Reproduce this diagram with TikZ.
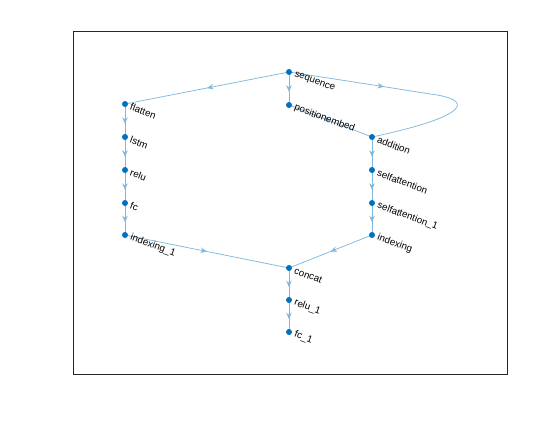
\documentclass[tikz,border=0pt]{standalone}
\usepackage{fontspec}
\setmainfont{Liberation Sans}
\usetikzlibrary{arrows.meta,decorations.markings,backgrounds}
\definecolor{edgec}{RGB}{128,184,222}
\definecolor{nodec}{RGB}{0,114,189}
\tikzset{
  x=1bp,y=-1bp,
  gnode/.style={circle,fill=nodec,inner sep=0pt,minimum size=6bp},
  glabel/.style={anchor=west,rotate=-20,inner sep=0pt,font=\fontsize{9.8}{11}\selectfont},
  gedge/.style={draw=edgec,line width=0.75bp,postaction={decorate},
    decoration={markings,mark=at position #1 with {\arrow[edgec]{Stealth[length=6.5bp,width=5.5bp]}}}},
  gedge/.default=0.6
}
\begin{document}
\begin{tikzpicture}
\useasboundingbox (0,0) rectangle (560,420);
\draw[line width=0.5bp,black!85] (72.8,31.5) rectangle (506.8,373.8);
\node[gnode] (seq) at (289,72) {};
\node[gnode] (pos) at (289,105) {};
\node[gnode] (fla) at (125,104) {};
\node[gnode] (lst) at (125,137) {};
\node[gnode] (rel) at (125,170) {};
\node[gnode] (fc) at (125,203) {};
\node[gnode] (ix1) at (125,235) {};
\node[gnode] (add) at (372,137) {};
\node[gnode] (sa) at (372,170) {};
\node[gnode] (sa1) at (372,203) {};
\node[gnode] (ix) at (372,235) {};
\node[gnode] (cat) at (289,268) {};
\node[gnode] (re1) at (289,300) {};
\node[gnode] (fc1) at (289,332) {};
\begin{pgfonlayer}{background}
\path[gedge] (seq.center) -- (pos.center);
\path[gedge=0.5] (seq.center) -- (fla.center);
\path[gedge] (fla.center) -- (lst.center);
\path[gedge] (lst.center) -- (rel.center);
\path[gedge] (rel.center) -- (fc.center);
\path[gedge] (fc.center) -- (ix1.center);
\path[gedge=0.5] (ix1.center) -- (cat.center);
\path[gedge=0.5] (pos.center) -- (add.center);
\path[gedge=0.36] (seq.center) .. controls (380,86) .. (430,94) .. controls (472,99) and (475,115) .. (add.center);
\path[gedge] (add.center) -- (sa.center);
\path[gedge] (sa.center) -- (sa1.center);
\path[gedge] (sa1.center) -- (ix.center);
\path[gedge=0.5] (ix.center) -- (cat.center);
\path[gedge] (cat.center) -- (re1.center);
\path[gedge] (re1.center) -- (fc1.center);
\end{pgfonlayer}
\foreach \n/\t in {seq/sequence,pos/positionembed,fla/flatten,lst/lstm,rel/relu,fc/fc,ix1/indexing\_1,add/addition,sa/selfattention,sa1/selfattention\_1,ix/indexing,cat/concat,re1/relu\_1,fc1/fc\_1}
  \node[glabel] at ([shift={(5.5,2.5)}]\n.center) {\t};
\end{tikzpicture}
\end{document}
